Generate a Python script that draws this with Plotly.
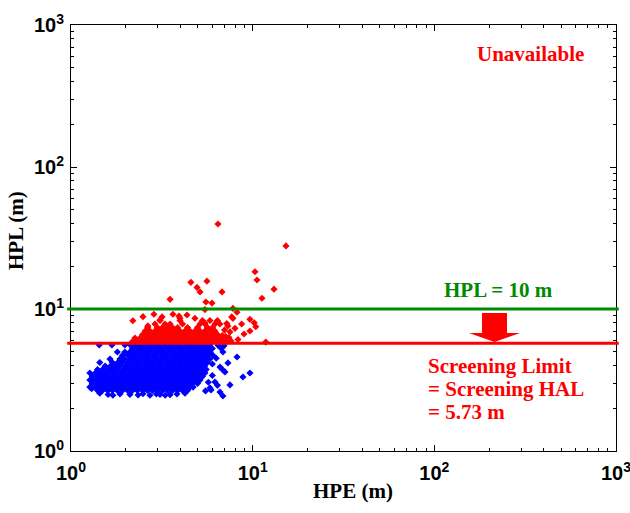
import plotly.graph_objects as go

# ---------------- data ----------------
# Blue: available epochs (HPL below the screening limit), read row by row
blue_row_hpl = [5.58, 5.27, 4.98, 4.71, 4.44, 4.20, 3.97, 3.75, 3.54, 3.35, 3.16, 2.99, 2.82, 2.67]
blue_row_01 = [1.43, 1.68, 1.98, 2.12, 2.26, 2.40, 2.55, 2.73, 2.90, 3.08, 3.30, 3.50, 3.75, 3.97, 4.25, 4.50, 4.82, 5.12, 5.47, 5.80]
blue_row_02 = [2.18, 2.33, 2.47, 2.65, 2.80, 3.00, 3.18, 3.41, 3.61, 3.87, 4.10, 4.39, 4.65, 4.98, 5.28, 5.65, 6.00]
blue_row_03 = [1.80, 1.98, 2.11, 2.25, 2.41, 2.56, 2.71, 2.91, 3.09, 3.28, 3.52, 3.73, 3.99, 4.23, 4.53, 4.80, 5.14, 5.45, 5.83]
blue_row_04 = [1.92, 2.06, 2.17, 2.32, 2.49, 2.63, 2.82, 2.98, 3.20, 3.39, 3.63, 3.85, 4.12, 4.37, 4.67, 4.96, 5.30, 5.62, 6.05]
blue_row_05 = [1.64, 1.86, 1.97, 2.12, 2.24, 2.40, 2.57, 2.72, 2.89, 3.10, 3.29, 3.50, 3.75, 3.98, 4.25, 4.51, 4.82, 5.12, 5.47, 5.80]
blue_row_06 = [1.44, 1.69, 1.81, 1.91, 2.05, 2.19, 2.31, 2.48, 2.65, 2.80, 3.00, 3.18, 3.40, 3.62, 3.87, 4.10, 4.39, 4.65, 4.97, 5.28, 5.63]
blue_row_07 = [1.54, 1.65, 1.75, 1.85, 1.99, 2.11, 2.26, 2.39, 2.56, 2.73, 2.90, 3.08, 3.30, 3.51, 3.73, 3.98, 4.24, 4.53, 4.81, 5.13, 5.45]
blue_row_08 = [1.40, 1.49, 1.60, 1.69, 1.80, 1.93, 2.04, 2.18, 2.33, 2.48, 2.64, 2.81, 3.00, 3.19, 3.39, 3.62, 3.86, 4.12, 4.38, 4.66, 4.98, 5.30, 5.55]
blue_row_09 = [1.27, 1.36, 1.45, 1.54, 1.64, 1.74, 1.87, 1.98, 2.11, 2.25, 2.40, 2.56, 2.72, 2.90, 3.09, 3.29, 3.51, 3.74, 3.98, 4.24, 4.52, 4.81, 5.13, 5.46]
blue_row_10 = [1.31, 1.40, 1.49, 1.59, 1.70, 1.80, 1.92, 2.05, 2.18, 2.32, 2.48, 2.64, 2.81, 2.99, 3.19, 3.40, 3.62, 3.86, 4.11, 4.38, 4.66, 4.97, 5.29]
blue_row_11 = [1.27, 1.36, 1.44, 1.54, 1.64, 1.75, 1.86, 1.98, 2.11, 2.25, 2.40, 2.56, 2.72, 2.90, 3.09, 3.29, 3.51, 3.74, 3.98, 4.24, 4.52, 4.81, 5.13]
blue_row_12 = [1.31, 1.40, 1.49, 1.59, 1.69, 1.80, 1.92, 2.05, 2.18, 2.32, 2.48, 2.64, 2.81, 2.99, 3.19, 3.40, 3.62, 3.86, 4.11, 4.38, 4.66, 4.97]
blue_row_13 = [1.27, 1.36, 1.44, 1.54, 1.64, 1.75, 1.86, 1.98, 2.11, 2.25, 2.40, 2.56, 2.72, 2.90, 3.09, 3.29, 3.51, 3.74, 3.98, 4.24, 4.52, 4.70]
blue_row_14 = [1.40, 1.49, 1.59, 1.69, 1.80, 1.92, 2.05, 2.18, 2.32, 2.48, 2.64, 2.81, 2.99, 3.19, 3.40, 3.62, 3.86, 4.11, 4.38]
blue_edge_hpe = [1.44, 1.60, 1.70, 1.86, 2.11, 2.34, 2.49, 2.72, 3.09, 3.51, 3.83, 4.24, 1.30, 2.95, 3.30,
                 6.45, 6.95, 6.70, 6.86, 8.20, 7.31, 6.61, 7.04, 6.86, 8.84, 9.66, 6.20, 7.50, 6.61, 6.86,
                 5.82, 6.00, 5.90, 6.30, 6.00, 5.70, 6.40, 5.50]
blue_edge_hpl = [2.55, 2.50, 2.47, 2.52, 2.50, 2.48, 2.53, 2.47, 2.50, 2.49, 2.52, 2.55, 2.75, 2.52, 2.47,
                 5.55, 5.50, 5.30, 4.98, 4.59, 4.17, 3.90, 3.60, 3.72, 3.32, 3.54, 3.06, 2.92, 2.60, 2.44,
                 2.78, 4.10, 2.69, 4.50, 3.40, 3.05, 2.90, 2.65]

# Red: unavailable epochs (HPL above the screening limit)
red_row_hpl = [5.90, 6.25, 6.61, 7.00, 7.41, 7.84, 8.30]
red_row_1 = [2.18, 2.32, 2.48, 2.64, 2.81, 2.99, 3.19, 3.40, 3.62, 3.86, 4.11, 4.38, 4.66, 4.97, 5.29, 5.64, 6.01, 6.40, 6.82, 7.15]
red_row_2 = [2.25, 2.40, 2.56, 2.72, 2.90, 3.09, 3.29, 3.51, 3.74, 3.98, 4.24, 4.52, 4.81, 5.13, 5.46, 5.82, 6.20, 6.61, 7.04]
red_row_3 = [2.48, 2.64, 2.81, 2.99, 3.19, 3.40, 3.62, 3.86, 4.11, 4.38, 4.66, 4.97, 5.29, 5.64, 6.01, 6.40]
red_row_4 = [2.56, 2.72, 2.90, 3.09, 3.29, 3.51, 3.74, 3.98, 4.24, 4.52, 4.81, 5.13, 5.46, 5.82, 6.20]
red_row_5 = [2.64, 2.99, 3.19, 3.40, 3.62, 3.86, 4.38, 4.97, 5.64, 6.01]
red_row_6 = [2.90, 3.29, 3.51, 4.11, 5.13, 5.46, 6.20, 6.60]
red_row_7 = [3.09, 3.98, 5.29, 5.82, 6.40]
red_scatter_hpe = [6.44, 15.25, 10.3, 10.56, 13.1, 11.25, 4.57, 5.6, 4.94, 5.13, 6.78, 3.51, 5.53, 5.97,
                   7.79, 5.46, 8.2, 7.79, 9.66, 10.2, 10.4, 7.99, 9.66, 8.96, 11.8, 2.19, 2.49, 2.86,
                   3.09, 3.64, 3.98, 4.35, 3.17, 3.93, 4.81, 6.35, 7.67, 2.65, 5.46, 7.2, 7.0, 6.8,
                   7.4, 8.3, 7.6, 7.3, 7.5, 7.1, 8.7]
red_scatter_hpl = [39.7, 27.8, 18.3, 16.0, 13.8, 11.9, 15.4, 15.7, 14.2, 13.2, 13.2, 11.7, 11.2, 11.0,
                   10.1, 9.9, 9.48, 8.6, 8.46, 8.0, 7.5, 7.31, 7.0, 6.67, 5.85, 8.27, 8.83, 9.18,
                   8.37, 9.18, 8.6, 9.07, 8.8, 8.9, 8.6, 8.1, 8.8, 7.6, 7.96, 7.9, 7.1, 6.5,
                   6.3, 6.1, 5.95, 7.6, 6.9, 6.4, 7.84]

hpl_threshold = 10.0
screening_hal = 5.73
axis_tick_values = [1, 10, 100, 1000]
axis_tick_text = ["10<sup>0</sup>", "10<sup>1</sup>", "10<sup>2</sup>", "10<sup>3</sup>"]

# ---------------- build series ----------------
blue_rows = [blue_row_01, blue_row_02, blue_row_03, blue_row_04, blue_row_05, blue_row_06, blue_row_07,
             blue_row_08, blue_row_09, blue_row_10, blue_row_11, blue_row_12, blue_row_13, blue_row_14]
blue_x, blue_y = [], []
for lvl, row in zip(blue_row_hpl, blue_rows):
    blue_x += row
    blue_y += [lvl] * len(row)
blue_x += blue_edge_hpe
blue_y += blue_edge_hpl

red_rows = [red_row_1, red_row_2, red_row_3, red_row_4, red_row_5, red_row_6, red_row_7]
red_x, red_y = [], []
for lvl, row in zip(red_row_hpl, red_rows):
    red_x += row
    red_y += [lvl] * len(row)
red_x += red_scatter_hpe
red_y += red_scatter_hpl

BLUE = "#0000ff"
RED = "#ff0000"
GREEN = "#008a00"
SERIF = "Liberation Serif, Times New Roman, serif"
SANS = "Liberation Sans, Arial, sans-serif"

fig = go.Figure()
fig.add_trace(go.Scatter(x=blue_x, y=blue_y, mode="markers",
                         marker=dict(symbol="diamond", size=5.5, color=BLUE, line=dict(width=0)),
                         showlegend=False, hoverinfo="skip"))
fig.add_trace(go.Scatter(x=red_x, y=red_y, mode="markers",
                         marker=dict(symbol="diamond", size=5.5, color=RED, line=dict(width=0)),
                         showlegend=False, hoverinfo="skip"))

minor_vals = [m * 10 ** d for d in range(3) for m in range(2, 10)]

axis_common = dict(
    type="log", tickmode="array", tickvals=axis_tick_values, ticktext=axis_tick_text,
    ticks="inside", ticklen=6, tickwidth=1, tickcolor="black",
    showline=True, linecolor="black", linewidth=1, mirror="allticks",
    showgrid=False, zeroline=False, ticklabeloverflow="allow", automargin=False,
    tickfont=dict(family=SANS, size=20, color="black", weight="bold"),
    minor=dict(tickmode="array", tickvals=minor_vals, ticks="inside", ticklen=3,
               tickwidth=1, tickcolor="black", showgrid=False),
)

fig.update_layout(
    width=630, height=513,
    margin=dict(l=71, r=14, t=25, b=62, autoexpand=False),
    paper_bgcolor="white", plot_bgcolor="white",
    xaxis=dict(range=[0, 3], ticklabelstandoff=4, **axis_common),
    yaxis=dict(range=[0, 3], ticklabelstandoff=2, **axis_common),
)

# Threshold lines (slightly wider than the frame, as in the reference)
fig.add_shape(type="line", xref="paper", yref="y", x0=-0.007, x1=1.005,
              y0=hpl_threshold, y1=hpl_threshold, line=dict(color=GREEN, width=3), layer="above")
fig.add_shape(type="line", xref="paper", yref="y", x0=-0.007, x1=1.005,
              y0=screening_hal, y1=screening_hal, line=dict(color=RED, width=3), layer="above")

# Block arrow from HPL=10 line down to screening limit
fig.add_shape(type="path", xref="paper", yref="paper",
              path="M 0.7541,0.3239 L 0.8,0.3239 L 0.8,0.277 L 0.8239,0.277 L 0.7771,0.2559 "
                   "L 0.7303,0.277 L 0.7541,0.277 Z",
              fillcolor=RED, line=dict(width=0), layer="above")

def note(text, x, y, color, xanchor="center", angle=0):
    fig.add_annotation(text="<b>%s</b>" % text, x=x, y=y, xref="paper", yref="paper",
                       xanchor=xanchor, yanchor="middle", showarrow=False, textangle=angle,
                       font=dict(family=SERIF, size=21, color=color))

note("Unavailable", 0.844, 0.932, RED)
note("HPL = 10 m", 0.7853, 0.379, GREEN)
note("Screening Limit", 0.6514, 0.1984, RED, xanchor="left")
note("= Screening HAL", 0.6514, 0.1444, RED, xanchor="left")
note("= 5.73 m", 0.6514, 0.0904, RED, xanchor="left")
note("HPE (m)", 0.5174, -0.0939, "black")
note("HPL (m)", -0.1009, 0.5164, "black", angle=-90)

fig.write_html("out.html")
